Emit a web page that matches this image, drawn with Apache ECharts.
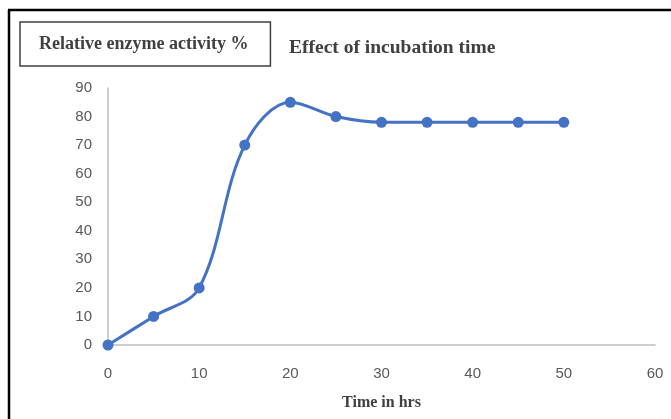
<!DOCTYPE html>
<html>
<head>
<meta charset="utf-8">
<script src="https://cdn.jsdelivr.net/npm/echarts@6/dist/echarts.min.js"></script>
<style>
html,body{margin:0;padding:0;background:#fff;}
#chart{width:671px;height:419px;}
</style>
</head>
<body>
<div id="chart"></div>
<script>
var timeHrs = [0, 5, 10, 15, 20, 25, 30, 35, 40, 45, 50];
var activity = [0, 10, 20, 70, 85, 80, 78, 78, 78, 78, 78];
var seriesName = 'Relative enzyme activity %';
var chartTitle = 'Effect of incubation time';
var xAxisName = 'Time in hrs';

var chart = echarts.init(document.getElementById('chart'));
var serif = '"Liberation Serif", "DejaVu Serif", serif';
chart.setOption({
  animation: false,
  backgroundColor: '#fff',
  title: {
    text: chartTitle,
    left: 284,
    top: 33,
    textStyle: {fontFamily: serif, fontSize: 19.5, fontWeight: 'bold', color: '#404040'}
  },
  legend: {
    data: [seriesName],
    left: 20,
    top: 22,
    padding: [13, 22, 13, 14],
    itemWidth: 0,
    itemHeight: 0,
    itemGap: 0,
    icon: 'none',
    borderColor: '#404040',
    borderWidth: 1.5,
    textStyle: {fontFamily: serif, fontSize: 18, fontWeight: 'bold', color: '#404040'}
  },
  grid: {left: 108, right: 16, top: 88, bottom: 74},
  xAxis: {
    type: 'value',
    min: 0, max: 60, interval: 10,
    name: xAxisName,
    nameLocation: 'middle',
    nameGap: 50,
    nameTextStyle: {fontFamily: serif, fontSize: 16, fontWeight: 'bold', color: '#404040'},
    axisLine: {lineStyle: {color: '#bfbfbf', width: 1.5}},
    axisTick: {show: false},
    splitLine: {show: false},
    axisLabel: {fontFamily: '"Liberation Sans", sans-serif', fontSize: 15, color: '#595959', margin: 21}
  },
  yAxis: {
    type: 'value',
    min: 0, max: 90, interval: 10,
    axisLine: {show: true, lineStyle: {color: '#bfbfbf', width: 1.5}},
    axisTick: {show: false},
    splitLine: {show: false},
    axisLabel: {fontFamily: '"Liberation Sans", sans-serif', fontSize: 15, color: '#595959', margin: 16}
  },
  series: [{
    name: seriesName,
    type: 'line',
    smooth: 0.35,
    data: timeHrs.map(function(t, i){ return [t, activity[i]]; }),
    symbol: 'circle',
    symbolSize: 11,
    lineStyle: {color: '#4472C4', width: 3},
    itemStyle: {color: '#4472C4'}
  }],
  graphic: [
    {type: 'line', shape: {x1: 8, y1: 10, x2: 671, y2: 10}, style: {stroke: '#000', lineWidth: 2.5}},
    {type: 'line', shape: {x1: 9, y1: 10, x2: 9, y2: 419}, style: {stroke: '#000', lineWidth: 2.5}}
  ]
});
</script>
</body>
</html>
